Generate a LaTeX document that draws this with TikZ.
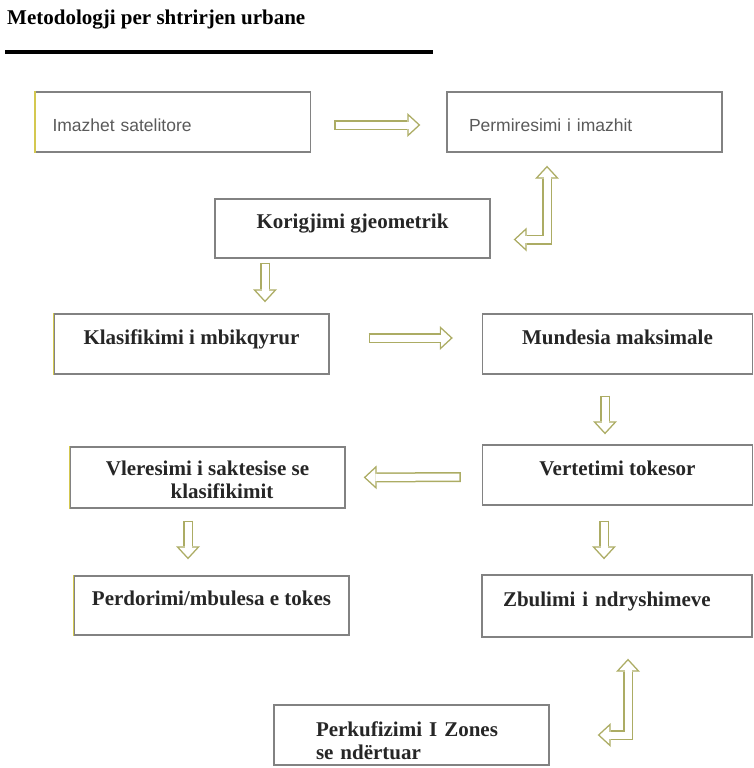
\documentclass[tikz,border=0pt]{standalone}
\usepackage{fontspec}
\setmainfont{Liberation Serif}
\setsansfont{Liberation Sans}
\usetikzlibrary{arrows.meta,positioning}
\definecolor{bGray}{RGB}{130,130,130}
\definecolor{bYell}{RGB}{212,200,80}
\definecolor{aOlive}{RGB}{172,172,100}
\definecolor{tGray}{RGB}{90,90,90}
\tikzset{
    box/.style={draw=bGray, line width=1.4pt, minimum height=60pt, inner sep=0pt,
        text=black!85, font=\fontsize{21}{23.5}\selectfont\bfseries},
    lbox/.style={box, minimum width=275pt},
    rbox/.style={box, minimum width=270pt},
    one/.style={text height=14pt, text depth=14pt},
    sbox/.style={lbox, font=\fontsize{17.5}{20}\selectfont\sffamily, text=tGray,
        align=left, text height=20pt, text depth=1pt},
    yline/.style={bYell, line width=1.6pt},
    outtip/.style={Triangle[length=13pt, width=24pt, line width=0pt]},
    intip/.style={Triangle[length=9.5pt, width=17.5pt, line width=0pt]},
    % hollow block arrow: #1 = gap at the head, #2 = gap at the tail
    blk/.style 2 args={preaction={draw=aOlive, line width=10pt, shorten >=#1, shorten <=#2,
        -{Triangle[length=13pt, width=24pt, line width=0pt]}},
        draw=white, line width=7pt, shorten >=#1+2.1pt, shorten <=#2+1.5pt,
        -{Triangle[length=9.5pt, width=17.5pt, line width=0pt]}},
    blkb/.style 2 args={preaction={draw=aOlive, line width=10pt, shorten >=#1, shorten <=#2,
        {Triangle[length=13pt, width=24pt, line width=0pt]}-{Triangle[length=13pt, width=24pt, line width=0pt]}},
        draw=white, line width=7pt, shorten >=#1+2.1pt, shorten <=#2+2.1pt,
        {Triangle[length=9.5pt, width=17.5pt, line width=0pt]}-{Triangle[length=9.5pt, width=17.5pt, line width=0pt]}}
}
\begin{document}
\begin{tikzpicture}[x=1pt,y=-1pt]
\useasboundingbox (0,0) rectangle (753,768);
% title
\node[anchor=base west, inner sep=0pt, font=\fontsize{21}{24}\selectfont\bfseries] (title) at (7,25) {Metodologji per shtrirjen urbane};
\draw[line width=3.5pt] (5,52) -- (433,52);
% boxes
\node[sbox, inner xsep=17pt, text width=241pt] (sat) at (173,122) {Imazhet satelitore};
\node[sbox, inner xsep=22pt, text width=231pt] (perm) at (584.5,122) {Permiresimi i imazhit};
\node[lbox, one, minimum height=59pt] (kor) at (352.5,228.5) {Korigjimi gjeometrik};
\node[lbox, one] (klas) at (191.5,344) {Klasifikimi i mbikqyrur};
\node[rbox, one] (mund) at (617.5,344) {Mundesia maksimale};
\node[rbox, one] (vert) at (617.5,475) {Vertetimi tokesor};
\node[lbox, align=center, minimum height=61pt] (vler) at (207.5,477.5) {\rule{0pt}{19pt}Vleresimi i saktesise se\\\hspace*{29pt}klasifikimit};
\node[lbox, one, minimum height=59pt] (perd) at (211.5,605.5) {Perdorimi/mbulesa e tokes};
\node[rbox, one, align=left, inner xsep=21pt, text width=228pt, minimum height=62pt] (zbul) at (617,606) {Zbulimi i ndryshimeve};
\node[lbox, align=left, inner xsep=42pt, text width=191pt] (perk) at (411.5,735) {\rule{0pt}{26pt}Perkufizimi I Zones\\se ndërtuar};
\foreach \n in {sat,klas,vler,perd}
    \draw[yline] (\n.north west) -- (\n.south west);
% arrows
\draw[blk={26pt}{23pt}] ([yshift=-3pt]sat.east) -- ([yshift=-3pt]perm.west);
\draw[blkb={13pt}{23pt}] ([yshift=-11pt]kor.east) -| ([xshift=-37.5pt]perm.south);
\draw[blk={11pt}{4pt}] ([xshift=-87.5pt]kor.south) -- ([xshift=-87.5pt]kor.south |- klas.north);
\draw[blk={29pt}{39pt}] ([yshift=6pt]klas.east) -- ([yshift=6pt]mund.west);
\draw[blk={10pt}{21pt}] ([xshift=-12.5pt]mund.south) -- ([xshift=-12.5pt]mund.south |- vert.north);
\draw[blk={18pt}{21pt}] ([yshift=-2pt]vert.west) -- (vler.east);
\draw[blk={16pt}{12pt}] ([xshift=-19.5pt]vler.south) -- ([xshift=-19.5pt]vler.south |- perd.north);
\draw[blk={15pt}{15pt}] ([xshift=-13.5pt]vert.south) -- ([xshift=-13.5pt]vert.south |- zbul.north);
\draw[blkb={21pt}{48pt}] (perk.east) -| ([xshift=11pt]zbul.south);
\end{tikzpicture}
\end{document}
